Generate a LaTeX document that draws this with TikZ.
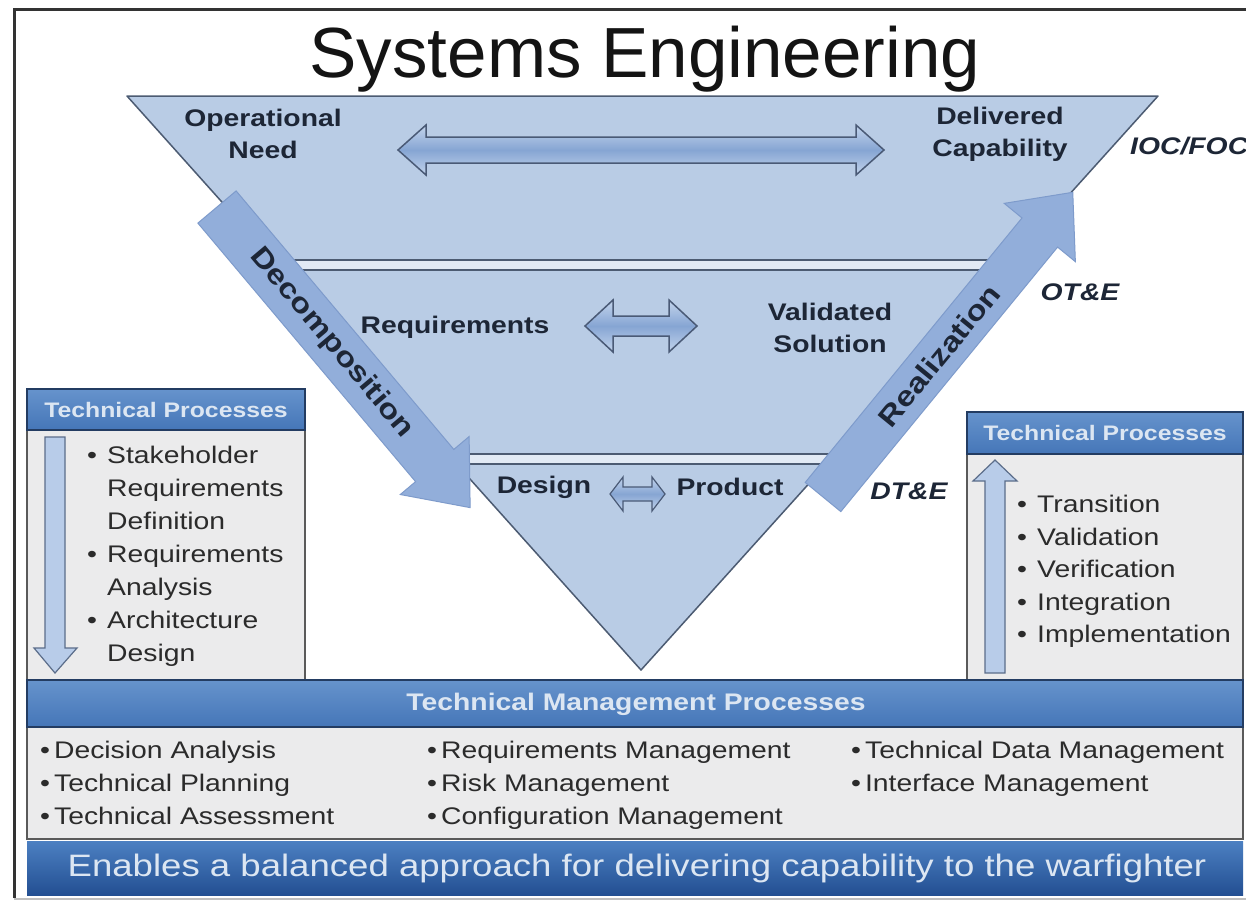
\documentclass[tikz,border=0pt]{standalone}
\usepackage{fontspec}
\setmainfont{Liberation Sans}[FakeStretch=1.18]
\newfontfamily\titlefont{Liberation Sans}
\usetikzlibrary{calc}
\definecolor{trifill}{HTML}{B9CCE5}
\definecolor{triedge}{HTML}{4C5B72}
\definecolor{gapfill}{HTML}{E2EAF5}
\definecolor{arrfillA}{HTML}{C3D4EC}
\definecolor{arrfillB}{HTML}{86A5D3}
\definecolor{arredge}{HTML}{4A5A76}
\definecolor{bigarr}{HTML}{92AEDA}
\definecolor{bigedge}{HTML}{7E9BCB}
\definecolor{lblcol}{HTML}{1D2636}
\definecolor{hdrtop}{HTML}{6693CC}
\definecolor{hdrbot}{HTML}{4576B8}
\definecolor{hdredge}{HTML}{233C62}
\definecolor{hdrtext}{HTML}{DCE6F2}
\definecolor{bodyfill}{HTML}{EBEBEC}
\definecolor{bodyedge}{HTML}{5A5A5A}
\definecolor{bodytext}{HTML}{2B2B2B}
\definecolor{barA}{HTML}{4C80C2}
\definecolor{barB}{HTML}{2D68B3}
\definecolor{barC}{HTML}{234F92}
\definecolor{smallarr}{HTML}{B8CCE9}
\definecolor{smalledge}{HTML}{5B6D8A}
\newcommand\fsz[1]{\fontsize{#1}{#1}\selectfont}
\tikzset{
  dblarrow/.style={draw=arredge, line width=1.5pt, top color=arrfillA, bottom color=arrfillA, middle color=arrfillB, line join=miter},
  bigarrow/.style={fill=bigarr, draw=bigedge, line width=1pt},
  tlabel/.style={font=\bfseries\fontsize{24}{32}\selectfont, text=lblcol, align=center, inner sep=0pt},
  tphase/.style={font=\bfseries\itshape\fsz{24}, text=lblcol, inner sep=0pt},
  arrtext/.style={font=\bfseries\fsz{28}, text=lblcol, inner sep=0pt},
  hdrbox/.style={draw=hdredge, line width=1.5pt, top color=hdrtop, bottom color=hdrbot},
  hdrtxt/.style={font=\bfseries\fsz{21}, text=hdrtext, inner sep=0pt},
  bodybox/.style={fill=bodyfill, draw=bodyedge, line width=1.2pt},
  item/.style={font=\fsz{24}, text=bodytext, anchor=base west, inner sep=0pt},
  smarrow/.style={fill=smallarr, draw=smalledge, line width=1.2pt, line join=miter}
}
\begin{document}
\begin{tikzpicture}[x=1pt,y=-1pt]
\useasboundingbox (0,0) rectangle (1246,906);
\fill[white] (0,0) rectangle (1246,906);
% frame
\draw[line width=3pt, black!80] (14,898) -- (14,9) -- (1250,9);
\draw[line width=1.5pt, black!25] (14,899) -- (1250,899);
% title
\node[font=\titlefont\fsz{71}, text=black!92, anchor=base, inner sep=0pt] (title) at (645,77) {Systems Engineering};
% triangle
\coordinate (A) at (127,96);
\coordinate (B) at (1158,96);
\coordinate (C) at (641,670);
\fill[trifill] (A) -- (B) -- (C) -- cycle;
\fill[gapfill] ($(A)!0.2857!(C)$) -- ($(B)!0.2857!(C)$) -- ($(B)!0.3031!(C)$) -- ($(A)!0.3031!(C)$) -- cycle;
\fill[gapfill] ($(A)!0.6237!(C)$) -- ($(B)!0.6237!(C)$) -- ($(B)!0.6411!(C)$) -- ($(A)!0.6411!(C)$) -- cycle;
\draw[triedge, line width=1.5pt] ($(A)!0.2857!(C)$) -- ($(B)!0.2857!(C)$);
\draw[triedge, line width=1.5pt] ($(A)!0.3031!(C)$) -- ($(B)!0.3031!(C)$);
\draw[triedge, line width=1.5pt] ($(A)!0.6237!(C)$) -- ($(B)!0.6237!(C)$);
\draw[triedge, line width=1.5pt] ($(A)!0.6411!(C)$) -- ($(B)!0.6411!(C)$);
\draw[triedge, line width=1.5pt, line join=round] (A) -- (B) -- (C) -- cycle;
% horizontal double arrows
\draw[dblarrow] (398,150) -- (426,125) -- (426,137) -- (856,137) -- (856,125) -- (884,150) -- (856,175) -- (856,163) -- (426,163) -- (426,175) -- cycle;
\draw[dblarrow] (585,326) -- (613,300) -- (613,316) -- (669,316) -- (669,300) -- (697,326) -- (669,352) -- (669,336) -- (613,336) -- (613,352) -- cycle;
\draw[dblarrow, line width=1.2pt] (610,494) -- (623,477) -- (623,487) -- (652,487) -- (652,477) -- (665,494) -- (652,511) -- (652,501) -- (623,501) -- (623,511) -- cycle;
% decomposition arrow
\begin{scope}[shift={(217,207)}, rotate=-49.9]
  \draw[bigarrow] (0,-25) -- (338,-25) -- (338,-45) -- (393,0) -- (338,45) -- (338,25) -- (0,25) -- cycle;
  \node[arrtext, rotate=-49.9] (decomp) at (178,0) {Decomposition};
\end{scope}
% realization arrow
\begin{scope}[shift={(823,497)}, rotate=50.66]
  \draw[bigarrow] (0,-23) -- (342,-23) -- (342,-46) -- (394,0) -- (342,46) -- (342,23) -- (0,23) -- cycle;
  \node[arrtext, rotate=50.66] (realiz) at (183,0) {Realization};
\end{scope}
% triangle labels
\node[tlabel] (opneed) at (263,134) {Operational\\Need};
\node[tlabel] (delcap) at (1000,134) {Delivered\\Capability};
\node[tlabel] (req) at (455,327) {Requirements};
\node[tlabel] (valsol) at (830,328) {Validated\\Solution};
\node[tlabel] (design) at (544,487) {Design};
\node[tlabel] (product) at (730,487) {Product};
\node[tphase, anchor=west] (iocfoc) at (1130,146) {IOC/FOC};
\node[tphase] (ote) at (1080,292) {OT\&E};
\node[tphase] (dte) at (909,491) {DT\&E};
% left technical processes box
\draw[bodybox] (27,430) rectangle (305,680);
\draw[hdrbox] (27,389) rectangle (305,430);
\node[hdrtxt] (ltp) at (166,410) {Technical Processes};
\draw[smarrow] (45,437) -- (65,437) -- (65,648) -- (77,648) -- (55,673) -- (34,648) -- (45,648) -- cycle;
\node[item, anchor=base] (lb1) at (92,463) {\textbullet};
\node[item] (l1) at (107,463) {Stakeholder};
\node[item] (l2) at (107,496) {Requirements};
\node[item] (l3) at (107,529) {Definition};
\node[item, anchor=base] (lb2) at (92,562) {\textbullet};
\node[item] (l4) at (107,562) {Requirements};
\node[item] (l5) at (107,595) {Analysis};
\node[item, anchor=base] (lb3) at (92,628) {\textbullet};
\node[item] (l6) at (107,628) {Architecture};
\node[item] (l7) at (107,661) {Design};
% right technical processes box
\draw[bodybox] (967,454) rectangle (1243,680);
\draw[hdrbox] (967,412) rectangle (1243,454);
\node[hdrtxt] (rtp) at (1105,433) {Technical Processes};
\draw[smarrow] (985,673) -- (1005,673) -- (1005,481) -- (1017,481) -- (995,460) -- (973,481) -- (985,481) -- cycle;
\node[item, anchor=base] (rb1) at (1022,512) {\textbullet};
\node[item] (r1) at (1037,512) {Transition};
\node[item, anchor=base] (rb2) at (1022,545) {\textbullet};
\node[item] (r2) at (1037,545) {Validation};
\node[item, anchor=base] (rb3) at (1022,577) {\textbullet};
\node[item] (r3) at (1037,577) {Verification};
\node[item, anchor=base] (rb4) at (1022,610) {\textbullet};
\node[item] (r4) at (1037,610) {Integration};
\node[item, anchor=base] (rb5) at (1022,642) {\textbullet};
\node[item] (r5) at (1037,642) {Implementation};
% technical management processes
\draw[bodybox] (27,727) rectangle (1243,839);
\draw[hdrbox] (27,680) rectangle (1243,727);
\node[hdrtxt, font=\bfseries\fsz{24}] (tmp) at (636,704) {Technical Management Processes};
\node[item] (m1) at (40,758) {\textbullet\,Decision Analysis};
\node[item] (m2) at (40,791) {\textbullet\,Technical Planning};
\node[item] (m3) at (40,824) {\textbullet\,Technical Assessment};
\node[item] (m4) at (427,758) {\textbullet\,Requirements Management};
\node[item] (m5) at (427,791) {\textbullet\,Risk Management};
\node[item] (m6) at (427,824) {\textbullet\,Configuration Management};
\node[item] (m7) at (851,758) {\textbullet\,Technical Data Management};
\node[item] (m8) at (851,791) {\textbullet\,Interface Management};
% bottom bar
\shade[top color=barA, middle color=barB, bottom color=barC] (27,841) rectangle (1243,895);
\node[font=\fsz{31}, text=hdrtext, inner sep=0pt] (enables) at (637,868) {Enables a balanced approach for delivering capability to the warfighter};
\end{tikzpicture}
\end{document}
